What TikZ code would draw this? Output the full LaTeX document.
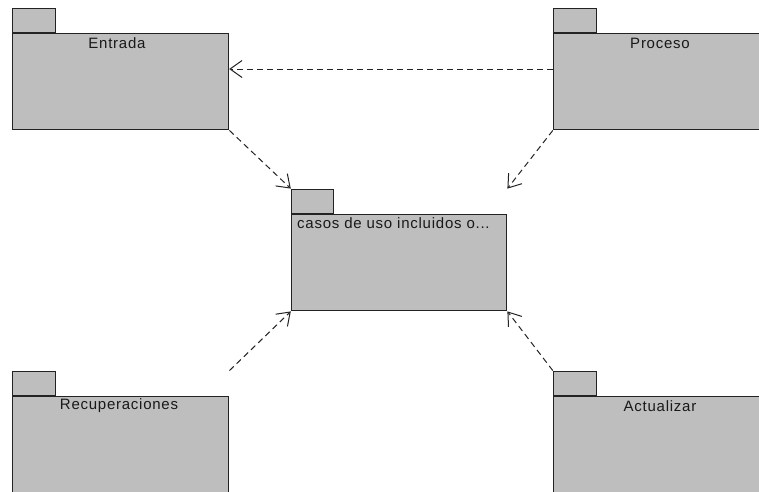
\documentclass[tikz,border=0pt]{standalone}
\usepackage{fontspec}
\setmainfont{Liberation Sans}[LetterSpace=5]
\usetikzlibrary{arrows.meta,fit}
\definecolor{pkgfill}{RGB}{190,190,190}
\definecolor{pkgline}{RGB}{35,35,35}
\begin{document}
\begin{tikzpicture}[x=1pt,y=-1pt,
  pkgbody/.style={draw=pkgline,fill=pkgfill,line width=1.2pt,rectangle,anchor=north west,
    minimum width=216pt,minimum height=96pt,inner sep=0pt},
  pkgtab/.style={draw=pkgline,fill=pkgfill,line width=1.2pt,rectangle,anchor=south west,
    minimum width=43pt,minimum height=24pt,inner sep=0pt},
  pkgbox/.style={inner sep=0pt,draw=none},
  pkglabel/.style={font=\fontsize{15pt}{17pt}\selectfont,text=black!90,inner sep=0pt},
  dep/.style={draw=pkgline,line width=1pt,dash pattern=on 6pt off 4pt,
    -{Straight Barb[length=12pt,width=17pt,line width=1pt]}}]
\useasboundingbox (0,0) rectangle (759,491);
\clip (0,0) rectangle (759,491);
% Entrada
\node[pkgbody] (entrada) at (12,33) {};
\node[pkgtab] (entradaTab) at (entrada.north west) {};
\node[pkgbox,fit=(entrada)(entradaTab)] (entradaBox) {};
\node[pkglabel] at (117,43) {Entrada};
% Proceso
\node[pkgbody] (proceso) at (553,33) {};
\node[pkgtab] (procesoTab) at (proceso.north west) {};
\node[pkgbox,fit=(proceso)(procesoTab)] (procesoBox) {};
\node[pkglabel] at (660,43) {Proceso};
% casos de uso
\node[pkgbody,minimum width=215pt] (casos) at (291,214) {};
\node[pkgtab,minimum width=42pt] (casosTab) at (casos.north west) {};
\node[pkgbox,fit=(casos)(casosTab)] (casosBox) {};
\node[pkglabel,anchor=west] at (297,223) {casos de uso incluidos o...};
% Recuperaciones
\node[pkgbody] (recup) at (12,396) {};
\node[pkgtab] (recupTab) at (recup.north west) {};
\node[pkgbox,fit=(recup)(recupTab)] (recupBox) {};
\node[pkglabel] at (119,406) {Recuperaciones};
% Actualizar
\node[pkgbody] (actual) at (553,396) {};
\node[pkgtab] (actualTab) at (actual.north west) {};
\node[pkgbox,fit=(actual)(actualTab)] (actualBox) {};
\node[pkglabel] at (660,406) {Actualizar};
% dependencies
\draw[dep] (procesoBox.west) -- (entrada.east |- procesoBox.west);
\draw[dep] (entradaBox.south east) -- (casosBox.north west);
\draw[dep] (procesoBox.south west) -- (casosBox.north east);
\draw[dep] (recupBox.north east) -- (casosBox.south west);
\draw[dep] (actualBox.north west) -- (casosBox.south east);
\end{tikzpicture}
\end{document}
